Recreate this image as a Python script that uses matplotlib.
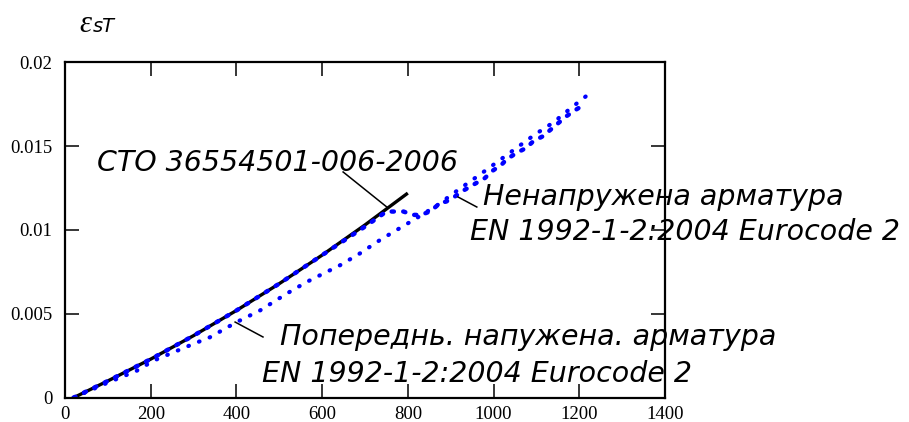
import numpy as np
import matplotlib
matplotlib.use("Agg")
import matplotlib.pyplot as plt

# Temperature, deg C, and thermal strain of steel
t_sto = [20, 100, 200, 300, 400, 500, 600, 700, 800]
eps_sto = [0.0, 0.0010, 0.0023, 0.0037, 0.0052, 0.0068, 0.0085, 0.0103, 0.0122]

# EN 1992-1-2, reinforcing (not prestressed) steel
t_rs = [20, 100, 200, 300, 400, 500, 600, 700, 750, 790, 812, 830, 852, 875,
        890, 910, 933, 953, 980, 996, 1019, 1030, 1054, 1077, 1093, 1116,
        1143, 1171, 1194, 1213]
eps_rs = [0.0, 0.0010, 0.0023, 0.0037, 0.0052, 0.0068, 0.0085, 0.0102, 0.0111,
          0.0111, 0.0109, 0.0109, 0.0111, 0.0116, 0.0117, 0.0120, 0.0124,
          0.0127, 0.0131, 0.0135, 0.0139, 0.0142, 0.0146, 0.0149, 0.0153,
          0.0156, 0.0162, 0.0168, 0.0172, 0.0175]

# EN 1992-1-2, prestressing steel
t_ps = [20, 100, 167, 206, 299, 338, 400, 455, 517, 564, 595, 642, 688, 735,
        774, 820, 870, 918, 968, 1011, 1054, 1097, 1139, 1182, 1217]
eps_ps = [0.0, 0.0009, 0.0016, 0.0022, 0.0032, 0.0036, 0.0045, 0.0052,
          0.0062, 0.0069, 0.0073, 0.0079, 0.0086, 0.0094, 0.0100, 0.0107,
          0.0115, 0.0124, 0.0133, 0.0141, 0.0149, 0.0157, 0.0164, 0.0173,
          0.0180]

x_ticks = [0, 200, 400, 600, 800, 1000, 1200, 1400]
y_ticks = [0, 0.005, 0.01, 0.015, 0.02]
y_tick_labels = ["0", "0.005", "0.01", "0.015", "0.02"]

blue = "#0000ff"
txt = dict(family="DejaVu Sans", style="italic", fontsize=20.5, color="black")

fig = plt.figure(figsize=(9.09, 4.22), dpi=100, facecolor="white")
ax = fig.add_axes([0.0715, 0.0576, 0.660, 0.7948])

ax.plot(t_sto, eps_sto, color="black", lw=2.4, solid_capstyle="butt")
ax.plot(t_rs, eps_rs, color=blue, lw=3.2, linestyle=(0, (0.5, 2.1)),
        dash_capstyle="round")
ax.plot(t_ps, eps_ps, color=blue, lw=3.0, linestyle=(0, (0.15, 2.6)),
        dash_capstyle="round")

ax.set_xlim(0, 1400)
ax.set_ylim(0, 0.02)
ax.set_xticks(x_ticks)
ax.set_xticklabels([str(v) for v in x_ticks])
ax.set_yticks(y_ticks)
ax.set_yticklabels(y_tick_labels)
ax.tick_params(direction="in", top=True, right=True, length=10, width=1.1,
               labelsize=13.5, color="black")
ax.tick_params(axis="x", pad=6)
ax.tick_params(axis="y", pad=9)
for lab in ax.get_xticklabels() + ax.get_yticklabels():
    lab.set_family("Liberation Serif")
for sp in ax.spines.values():
    sp.set_linewidth(1.6)
    sp.set_color("black")

# leader lines and captions
ax.plot([649, 751], [0.01346, 0.01137], color="black", lw=1.1)
ax.plot([917, 961], [0.01197, 0.01137], color="black", lw=1.1)
ax.plot([397, 462], [0.00451, 0.00362], color="black", lw=1.1)

ax.text(75, 0.01352, "СТО 36554501-006-2006", va="baseline", clip_on=False, **txt)
ax.text(975, 0.01149, "Ненапружена арматура", va="baseline", clip_on=False, **txt)
ax.text(945, 0.0094, "EN 1992-1-2:2004 Eurocode 2", va="baseline", clip_on=False, **txt)
ax.text(502, 0.00315, "Попереднь. напужена. арматура", va="baseline", clip_on=False, **txt)
ax.text(460, 0.00094, "EN 1992-1-2:2004 Eurocode 2", va="baseline", clip_on=False, **txt)

# axis symbol
fig.text(79 / 909, 1 - 32 / 422, "ε", family="Liberation Serif", style="italic",
         fontsize=22, va="baseline")
fig.text(93 / 909, 1 - 32 / 422, "sT", family="DejaVu Sans", style="italic",
         fontsize=14, va="baseline")

fig.savefig("out.png", dpi=100, facecolor="white")
